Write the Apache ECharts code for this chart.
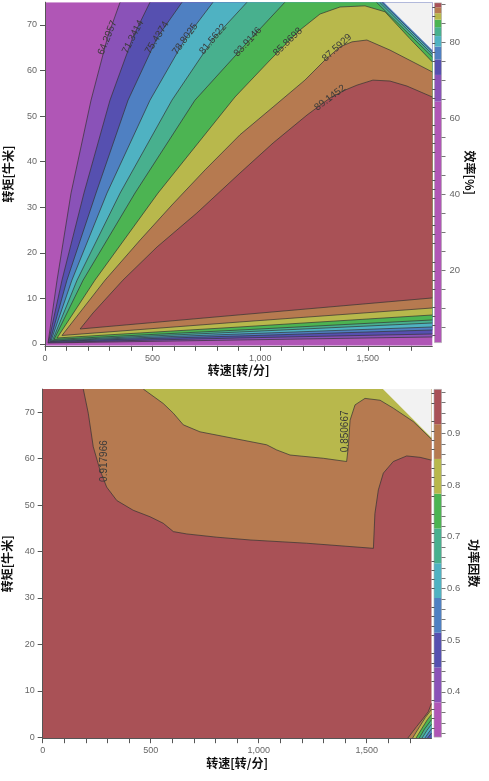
<!DOCTYPE html>
<html><head><meta charset="utf-8">
<script src="https://cdn.jsdelivr.net/npm/echarts@6/dist/echarts.min.js"></script>
<style>html,body{margin:0;padding:0;background:#fff}#c{width:489px;height:781px}</style>
</head><body><div id="c"></div>
<script>
// ---------------- data ----------------
const xTickValues = [0,100,200,300,400,500,600,700,800,900,1000,1100,1200,1300,1400,1500,1600,1700];
const xLabelValues = [0,500,1000,1500];
const yMajorValues = [0,10,20,30,40,50,60,70];
const yMinorValues = [2,4,6,8,12,14,16,18,22,24,26,28,32,34,36,38,42,44,46,48,52,54,56,58,62,64,66,68,72,74];
const effCbTicks = [5,10,15,20,25,30,35,40,45,50,55,60,65,70,75,80,85,90];
const effCbLabels = [20,40,60,80];
const pfCbTicks = [0.32,0.34,0.36,0.38,0.4,0.42,0.44,0.46,0.48,0.5,0.52,0.54,0.56,0.58,0.6,0.62,0.64,0.66,0.68,0.7,0.72,0.74,0.76,0.78,0.8,0.82,0.84,0.86,0.88,0.9,0.92,0.94,0.96,0.98];
const pfCbLabels = [0.4,0.5,0.6,0.7,0.8,0.9];

const speedRange = [0, 1800];
const effTorqueRange = [-0.4, 75];
const pfTorqueRange = [-0.2, 75];

// efficiency contour levels [%] and colour-bar range
const effLevels = [64.2957, 71.3414, 75.4374, 78.8025, 81.5622, 83.9146, 85.8698, 87.5929, 89.1452];
const effRange = [0.9, 90.3];
// power factor contour levels and colour-bar range
const pfLevels = [0.379574, 0.446873, 0.514172, 0.581471, 0.64877, 0.716069, 0.783368, 0.850667, 0.917966];
const pfRange = [0.312275, 0.985265];

// efficiency contours: upper/left branch (speed rpm, torque Nm), from the tip near the origin outward
const effUpper64 = [[14,0.22],[56,14.0],[121,33.1],[214,53.5],[290,67.2],[349,75]];
const effUpper71 = [[16,0.33],[79,14.0],[181,33.1],[302,53.5],[409,67.4],[488,75]];
const effUpper75 = [[23,0.55],[102,14.0],[237,33.1],[386,53.5],[521,67.2],[637,75]];
const effUpper79 = [[28,0.66],[125,14.0],[288,33.1],[488,53.5],[651,66.9],[781,75],[1565,75],[1800,64.1]];
const effUpper82 = [[35,0.77],[149,14.0],[349,33.1],[590,53.5],[781,66.9],[939,75],[1555,75],[1800,63.6]];
const effUpper84 = [[42,0.99],[177,14.0],[418,33.1],[697,53.5],[943,66.3],[1115,75],[1540,75],[1800,63.0]];
const effUpper86 = [[56,1.32],[232,14.0],[525,33.1],[883,54.2],[1046,62.3],[1129,66.3],[1185,68.9],[1278,72.4],[1371,73.95],[1487,74.2],[1580,72.9],[1696,67.0],[1800,61.9]];
const effUpper88 = [[79,1.87],[279,14.0],[442,22.8],[590,30.5],[744,38.2],[906,45.9],[1060,52.0],[1208,57.9],[1301,62.3],[1371,65.2],[1427,66.3],[1496,66.7],[1603,64.5],[1800,59.7]];
const effUpper89 = [[163,3.29],[223,6.8],[362,14.0],[521,21.3],[706,28.75],[906,37.5],[1060,44.1],[1218,50.25],[1325,54.0],[1394,55.7],[1450,56.8],[1524,57.9],[1603,57.7],[1682,56.6],[1800,54.2]];
// efficiency contours: lower branch (low torque), from the tip to the right edge
const effLower64 = [[14,0.22],[906,0.88],[1800,1.54]];
const effLower71 = [[16,0.33],[906,1.32],[1800,2.19]];
const effLower75 = [[23,0.55],[906,1.76],[1800,3.07]];
const effLower79 = [[28,0.66],[906,2.19],[1800,3.73]];
const effLower82 = [[35,0.77],[906,2.63],[1800,4.61]];
const effLower84 = [[42,0.99],[906,3.07],[1800,5.27]];
const effLower86 = [[56,1.32],[906,3.73],[1800,6.36]];
const effLower88 = [[79,1.87],[906,4.83],[1800,7.9]];
const effLower89 = [[163,3.29],[500,4.7],[906,6.4],[1800,10.1]];
const effUpper = [effUpper64, effUpper71, effUpper75, effUpper79, effUpper82, effUpper84, effUpper86, effUpper88, effUpper89];
const effLower = [effLower64, effLower71, effLower75, effLower79, effLower82, effLower84, effLower86, effLower88, effLower89];
const effLabelAt = [[290,67.2],[409,67.4],[521,67.2],[651,66.9],[781,66.9],[943,66.3],[1129,66.3],[1357,65.0],[1325,54.0]];
const effLabelAngle = [68, 63, 58, 54, 50, 48, 44, 42, 37];

// power factor contours
const pfLine0918 = [[188,75],[211,69.8],[234,62.6],[265,57.6],[296,53.9],[343,51.0],[419,48.9],[497,47.5],[558,46.1],[605,44.3],[667,43.8],[806,43.1],[960,42.5],[1222,41.8],[1531,40.7],[1538,48.2],[1554,53.3],[1577,56.9],[1623,59.4],[1685,60.6],[1747,60.3],[1800,59.7]];
const pfLine0851 = [[466,75],[558,71.9],[605,69.8],[651,67.3],[728,65.8],[882,64.4],[960,63.7],[1037,63.0],[1083,61.9],[1145,60.8],[1299,60.1],[1407,59.4],[1415,62.6],[1423,68.3],[1446,71.6],[1492,73.0],[1562,72.6],[1623,70.9],[1716,68.0],[1800,64.2]];
const pfFan0918 = [[1690,-0.2],[1731,2.3],[1762,4.1],[1785,5.5],[1800,7.3]];
const pfFan0851 = [[1712,-0.2],[1745,2.3],[1772,4.3],[1800,6.0]];
const pfFan0783 = [[1728,-0.2],[1757,2.0],[1781,3.8],[1800,4.9]];
const pfFan0716 = [[1743,-0.2],[1768,1.8],[1800,3.8]];
const pfFan0649 = [[1756,-0.2],[1779,1.5],[1800,2.8]];
const pfFan0581 = [[1769,-0.2],[1788,1.1],[1800,1.8]];
const pfFan0514 = [[1781,-0.2],[1800,0.9]];
const pfFanLines = [pfFan0918, pfFan0851, pfFan0783, pfFan0716, pfFan0649, pfFan0581, pfFan0514];
const pfLabelAt = [[284,59.5],[1400,65.9]];
const pfLabelLevel = [8, 7];

// maximum torque limit (no data above it)
const torqueLimit = [[1575,75],[1800,64.5]];

// ---------------- styles ----------------
const palette = ['#b056b6','#8a52b8','#5650b0','#4f80c2','#4fb2c2','#48b08e','#4cb452','#b8b84c','#b67a50','#a95156'];
const emptyColor = '#f2f2f2';
const lineColor = '#333';

// ---------------- build ----------------
const X0 = speedRange[0], X1 = speedRange[1];
function corner(x, y) { return [x, y]; }

function effLayers() {
  const [y0, y1] = effTorqueRange;
  const L = [{ poly: [corner(X0,y0), corner(X1,y0), corner(X1,y1), corner(X0,y1)], color: palette[0], stroke: false }];
  effUpper.forEach((up, k) => {
    const poly = up.slice();
    const last = up[up.length - 1];
    if (last[1] === y1 && last[0] !== X1) poly.push(corner(X1, y1));
    const low = effLower[k].slice().reverse().slice(0, -1);
    L.push({ poly: poly.concat(low), color: palette[k + 1], stroke: true });
  });
  L.push({ poly: torqueLimit.concat([corner(X1, y1)]), color: emptyColor, stroke: false });
  return L;
}
function pfLayers() {
  const [y0, y1] = pfTorqueRange;
  const L = [{ poly: [corner(X0,y0), corner(X1,y0), corner(X1,y1), corner(X0,y1)], color: palette[9], stroke: false }];
  L.push({ poly: pfLine0918.concat([corner(X1, y1)]), color: palette[8], stroke: true });
  L.push({ poly: pfLine0851.concat([corner(X1, y1)]), color: palette[7], stroke: true });
  pfFanLines.forEach((ln, k) => {
    L.push({ poly: ln.concat([corner(X1, y0)]), color: palette[8 - k], stroke: true });
  });
  L.push({ poly: torqueLimit.concat([corner(X1, y1)]), color: emptyColor, stroke: false });
  return L;
}

function contourRenderer(layers, yr) {
  const [y0, y1] = yr;
  return function (params, api) {
    const Ly = layers[params.dataIndex];
    const px = Ly.poly.map(p => api.coord(p));
    const children = [{ type: 'polygon', shape: { points: px }, style: { fill: Ly.color } }];
    if (Ly.stroke) {
      const n = Ly.poly.length;
      let run = [];
      const flush = () => { if (run.length > 1) children.push({ type: 'polyline', shape: { points: run }, style: { stroke: lineColor, lineWidth: 0.7, fill: null } }); run = []; };
      for (let i = 0; i < n; i++) {
        const a = Ly.poly[i], b = Ly.poly[(i + 1) % n];
        const edge = (a[0] === X1 && b[0] === X1) || (a[0] === X0 && b[0] === X0) || (a[1] === y1 && b[1] === y1) || (a[1] === y0 && b[1] === y0);
        if (!edge) { if (!run.length) run.push(px[i]); run.push(px[(i + 1) % n]); }
        else flush();
      }
      flush();
    }
    return { type: 'group', children };
  };
}

function labelRenderer(texts, at, angles) {
  return function (params, api) {
    const i = params.dataIndex;
    const p = api.coord(at[i]);
    return { type: 'text', x: p[0], y: p[1], rotation: angles[i] * Math.PI / 180,
      style: { text: texts[i], fill: '#3a3a3a', fontSize: 10, fontFamily: 'Liberation Sans', align: 'center', verticalAlign: 'middle' } };
  };
}

function cbRenderer(levels, range) {
  return function (params, api) {
    const i = params.dataIndex;
    const lo = i === 0 ? range[0] : levels[i - 1];
    const hi = i === levels.length ? range[1] : levels[i];
    const a = api.coord([0, lo]), b = api.coord([1, hi]);
    return { type: 'rect', shape: { x: a[0], y: b[1], width: b[0] - a[0], height: a[1] - b[1] }, style: { fill: palette[i] } };
  };
}
function cbFrame(range) {
  return function (params, api) {
    const a = api.coord([0, range[0]]), b = api.coord([1, range[1]]);
    return { type: 'rect', shape: { x: a[0], y: b[1], width: b[0] - a[0], height: a[1] - b[1] }, style: { fill: null, stroke: '#aaa', lineWidth: 0.6 } };
  };
}

const commaFmt = v => String(v).replace(/\B(?=(\d{3})+(?!\d))/g, ',');
const titleStyle = { fontFamily: 'Noto Sans CJK SC', fontWeight: 'bold', fontSize: 12, color: '#111' };
const tickLabel = { color: '#666', fontSize: 9, fontFamily: 'Liberation Sans' };

function plotX(gi, name) {
  return { type: 'value', gridIndex: gi, min: X0, max: X1, z: 5,
    axisLine: { show: true, onZero: false, lineStyle: { color: '#555', width: 1 } },
    axisTick: { show: true, length: 5, customValues: xTickValues, lineStyle: { color: '#555' } },
    axisLabel: Object.assign({ customValues: xLabelValues, formatter: commaFmt, margin: 8 }, tickLabel),
    splitLine: { show: false }, name, nameLocation: 'middle', nameGap: 19, nameTextStyle: titleStyle };
}
function plotY(gi, yr, name, gap) {
  return { type: 'value', gridIndex: gi, min: yr[0], max: yr[1], z: 5,
    axisLine: { show: true, onZero: false, lineStyle: { color: '#555', width: 1 } },
    axisTick: { show: true, length: 5, customValues: yMajorValues, lineStyle: { color: '#555' } },
    axisLabel: Object.assign({ customValues: yMajorValues, margin: 8 }, tickLabel),
    splitLine: { show: false }, name, nameLocation: 'middle', nameGap: gap, nameRotate: 90, nameTextStyle: titleStyle };
}
function plotYMinor(gi, yr) {
  return { type: 'value', gridIndex: gi, min: yr[0], max: yr[1], z: 5,
    axisLine: { show: false, onZero: false },
    axisTick: { show: true, length: 3, customValues: yMinorValues, lineStyle: { color: '#555' } },
    axisLabel: { show: false }, splitLine: { show: false } };
}
function cbX(gi) { return { type: 'value', gridIndex: gi, min: 0, max: 1, show: false }; }
function cbY(gi, range, ticks, labels, fmt, margin, name, gap) {
  return { type: 'value', gridIndex: gi, position: 'right', min: range[0], max: range[1], z: 5,
    axisLine: { show: false, onZero: false },
    axisTick: { show: true, length: 4, customValues: ticks, lineStyle: { color: '#777' } },
    axisLabel: Object.assign({ customValues: labels, formatter: fmt, margin }, tickLabel, { fontSize: 9.5 }),
    splitLine: { show: false }, name, nameLocation: 'middle', nameRotate: -90, nameGap: gap, nameTextStyle: titleStyle };
}

const effL = effLayers();
const pfL = pfLayers();
const effTexts = effLevels.map(v => v.toFixed(4));
const pfTexts = pfLabelLevel.map(i => pfLevels[i].toFixed(6));

const gridBase = { containLabel: false, outerBoundsMode: 'none' };
const option = {
  animation: false,
  backgroundColor: '#fff',
  grid: [
    Object.assign({ left: 45, top: 2.2, width: 387.3, height: 343.6 }, gridBase),
    Object.assign({ left: 434.5, top: 2.9, width: 7, height: 339.7 }, gridBase),
    Object.assign({ left: 42.7, top: 389.1, width: 388.8, height: 349.1 }, gridBase),
    Object.assign({ left: 434, top: 389.4, width: 7.5, height: 347.7 }, gridBase)
  ],
  xAxis: [plotX(0, '转速[转/分]'), cbX(1), plotX(2, '转速[转/分]'), cbX(3)],
  yAxis: [
    plotY(0, effTorqueRange, '转矩[牛米]', 31),
    plotYMinor(0, effTorqueRange),
    cbY(1, effRange, effCbTicks, effCbLabels, v => String(v), 8, '效率[%]', 19),
    plotY(2, pfTorqueRange, '转矩[牛米]', 29),
    plotYMinor(2, pfTorqueRange),
    cbY(3, pfRange, pfCbTicks, pfCbLabels, v => v.toFixed(1), 5.5, '功率因数', 26)
  ],
  series: [
    { type: 'custom', xAxisIndex: 0, yAxisIndex: 0, clip: true, silent: true, z: 1, data: effL.map((_, i) => [i]), renderItem: contourRenderer(effL, effTorqueRange) },
    { type: 'custom', xAxisIndex: 0, yAxisIndex: 0, clip: true, silent: true, z: 2, data: effTexts.map((_, i) => [i]), renderItem: labelRenderer(effTexts, effLabelAt, effLabelAngle) },
    { type: 'custom', xAxisIndex: 1, yAxisIndex: 2, silent: true, z: 1, data: palette.map((_, i) => [i]), renderItem: cbRenderer(effLevels, effRange) },
    { type: 'custom', xAxisIndex: 1, yAxisIndex: 2, silent: true, z: 2, data: [[0]], renderItem: cbFrame(effRange) },
    { type: 'custom', xAxisIndex: 2, yAxisIndex: 3, clip: true, silent: true, z: 1, data: pfL.map((_, i) => [i]), renderItem: contourRenderer(pfL, pfTorqueRange) },
    { type: 'custom', xAxisIndex: 2, yAxisIndex: 3, clip: true, silent: true, z: 2, data: pfTexts.map((_, i) => [i]), renderItem: labelRenderer(pfTexts, pfLabelAt, [90, 90]) },
    { type: 'custom', xAxisIndex: 3, yAxisIndex: 5, silent: true, z: 1, data: palette.map((_, i) => [i]), renderItem: cbRenderer(pfLevels, pfRange) },
    { type: 'custom', xAxisIndex: 3, yAxisIndex: 5, silent: true, z: 2, data: [[0]], renderItem: cbFrame(pfRange) }
  ]
};
const chart = echarts.init(document.getElementById('c'), null, { renderer: 'canvas' });
chart.setOption(option);
</script></body></html>
